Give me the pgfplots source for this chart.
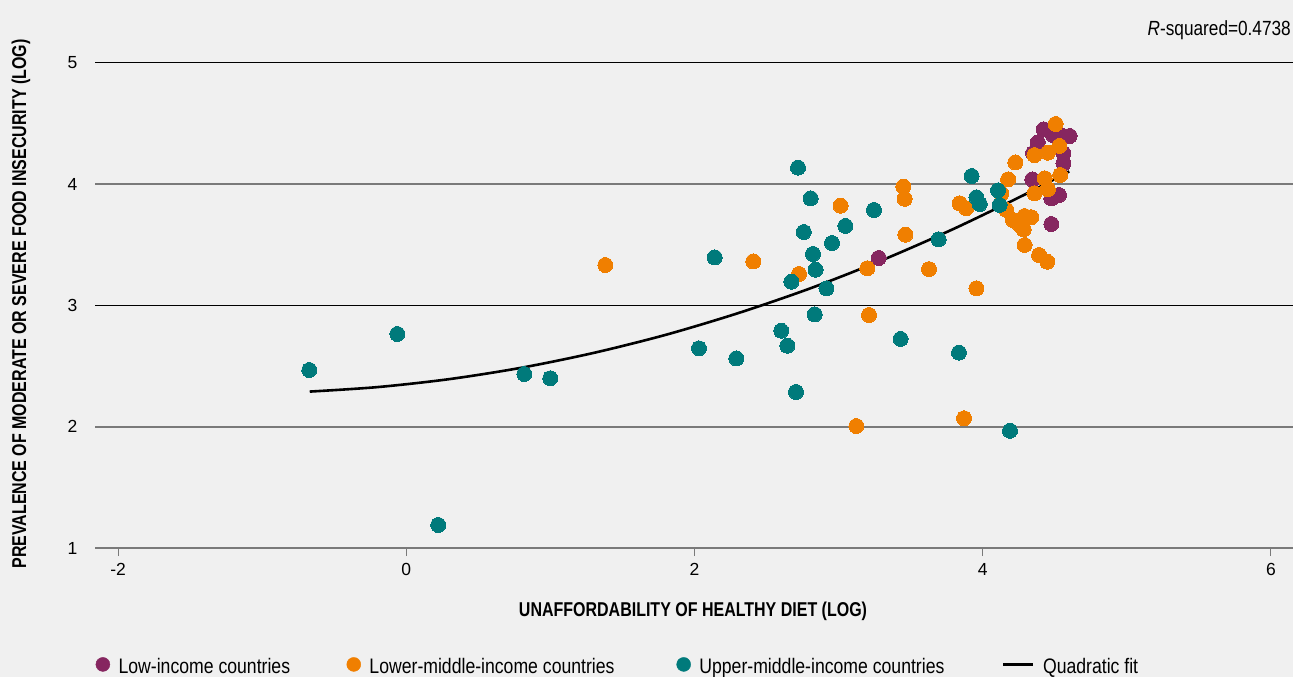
\documentclass[border=0pt]{standalone}
\usepackage{fontspec}
\setmainfont{Liberation Sans}
\newfontfamily\condfont[FakeStretch=0.84]{Liberation Sans}
\newfontfamily\condbold[FakeStretch=0.8]{Liberation Sans}
\usepackage{pgfplots}
\pgfplotsset{compat=1.18}
\definecolor{bg}{HTML}{F0F0F0}
\definecolor{lowc}{HTML}{862660}
\definecolor{lmc}{HTML}{F07F00}
\definecolor{umc}{HTML}{007A7B}
\definecolor{gridgray}{HTML}{7A7A7A}
\begin{document}
\begin{tikzpicture}
\fill[bg] (0,0) rectangle (1293bp,677bp);
\begin{axis}[
  at={(95bp,129bp)}, anchor=south west,
  scale only axis, width=1198bp, height=485bp,
  xmin=-2.16, xmax=6.153, ymin=1, ymax=5,
  clip=false,
  axis line style={draw=none},
  xtick={-2,0,2,4,6}, xticklabels={-2,0,2,4,6},
  ytick={1,2,4}, yticklabels={1,2,4},
  extra y ticks={3,5}, extra y tick labels={3,5},
  extra y tick style={major grid style={black, line width=1bp}, grid style={black, line width=1bp}, major tick style={draw=none}},
  ymajorgrids, major grid style={gridgray, line width=1.6bp},
  xtick pos=bottom, ytick pos=left,
  tick align=outside, major tick length=8bp,
  xtick style={draw=gridgray, line width=1bp},
  ytick style={draw=none},
  ticklabel style={font=\fontsize{17.5bp}{20bp}\selectfont},
  xticklabel style={yshift=-4bp},
  yticklabel style={xshift=-6bp},
  legend style={at={(0.0004,-0.2433)}, anchor=west, draw=none, fill=none,
    inner sep=0pt, font=\condfont\fontsize{21bp}{24bp}\selectfont,
    nodes={inner sep=0pt},
    /tikz/every odd column/.append style={column sep=8.5bp},
    /tikz/every even column/.append style={column sep=0bp}},
  legend columns=4,
]
\addplot[lowc, only marks, mark=*, mark size=7.5bp, mark options={draw=lowc, fill=lowc, line width=0pt},
  legend image code/.code={\fill[lowc] (7bp,2bp) circle (7bp);}] table {
x y
3.278 3.392
4.423 4.453
4.488 4.406
4.550 4.400
4.603 4.398
4.382 4.345
4.560 4.256
4.349 4.256
4.560 4.173
4.344 4.040
4.529 3.911
4.476 3.884
4.476 3.672
};
\addlegendentry{\makebox[228bp][l]{Low-income countries}}
\addplot[lmc, only marks, mark=*, mark size=7.5bp, mark options={draw=lmc, fill=lmc, line width=0pt},
  legend image code/.code={\fill[lmc] (7bp,2bp) circle (7bp);}] table {
x y
1.381 3.334
2.408 3.364
3.014 3.823
3.449 3.980
3.458 3.880
3.463 3.584
3.199 3.307
2.725 3.260
3.627 3.300
3.956 3.142
3.211 2.922
3.123 2.006
3.870 2.070
3.840 3.843
3.886 3.802
4.129 3.925
4.506 4.497
4.532 4.316
4.359 4.241
4.452 4.260
4.226 4.180
4.176 4.040
4.430 4.049
4.538 4.076
4.452 3.960
4.359 3.926
4.164 3.788
4.210 3.705
4.290 3.738
4.337 3.728
4.256 3.664
4.284 3.628
4.290 3.499
4.391 3.416
4.448 3.361
};
\addlegendentry{\makebox[307bp][l]{Lower-middle-income countries}}
\addplot[umc, only marks, mark=*, mark size=7.5bp, mark options={draw=umc, fill=umc, line width=0pt},
  legend image code/.code={\fill[umc] (7bp,2bp) circle (7bp);}] table {
x y
-0.673 2.468
-0.062 2.765
0.222 1.190
0.819 2.435
0.999 2.400
2.140 3.397
2.031 2.647
2.290 2.564
2.718 4.137
2.806 3.884
3.245 3.788
2.758 3.606
3.047 3.656
2.954 3.515
2.822 3.425
3.694 3.546
2.840 3.295
2.672 3.196
2.915 3.142
2.834 2.927
2.602 2.792
2.644 2.668
3.430 2.724
3.835 2.611
2.704 2.287
4.189 1.967
3.923 4.068
3.956 3.892
3.979 3.837
4.106 3.950
4.117 3.829
};
\addlegendentry{\makebox[303bp][l]{Upper-middle-income countries}}
\addplot[black, line width=2.6bp, smooth, no marks,
  legend image code/.code={\draw[black, line width=2.2bp] (0bp,2bp) -- (30bp,2bp);}] table {
x y
-0.67 2.290
-0.2 2.327
0.3 2.393
0.8 2.487
1.3 2.609
1.8 2.758
2.3 2.936
2.8 3.140
3.3 3.373
3.8 3.633
4.3 3.920
4.6 4.106
};
\addlegendentry{Quadratic fit}
\end{axis}
\node[anchor=base, font=\condbold\bfseries\fontsize{20bp}{24bp}\selectfont] at (693bp,60bp) {UNAFFORDABILITY OF HEALTHY DIET (LOG)};
\node[anchor=base, rotate=90, font=\condbold\bfseries\fontsize{20bp}{24bp}\selectfont] at (26bp,373bp) {PREVALENCE OF MODERATE OR SEVERE FOOD INSECURITY (LOG)};
\node[anchor=base east, inner sep=0pt, font=\condfont\fontsize{20.5bp}{23bp}\selectfont] at (1291bp,641.5bp) {\textit{R}-squared=0.4738};
\pgfresetboundingbox
\path[use as bounding box] (0,0) rectangle (1293bp,677bp);
\end{tikzpicture}
\end{document}
